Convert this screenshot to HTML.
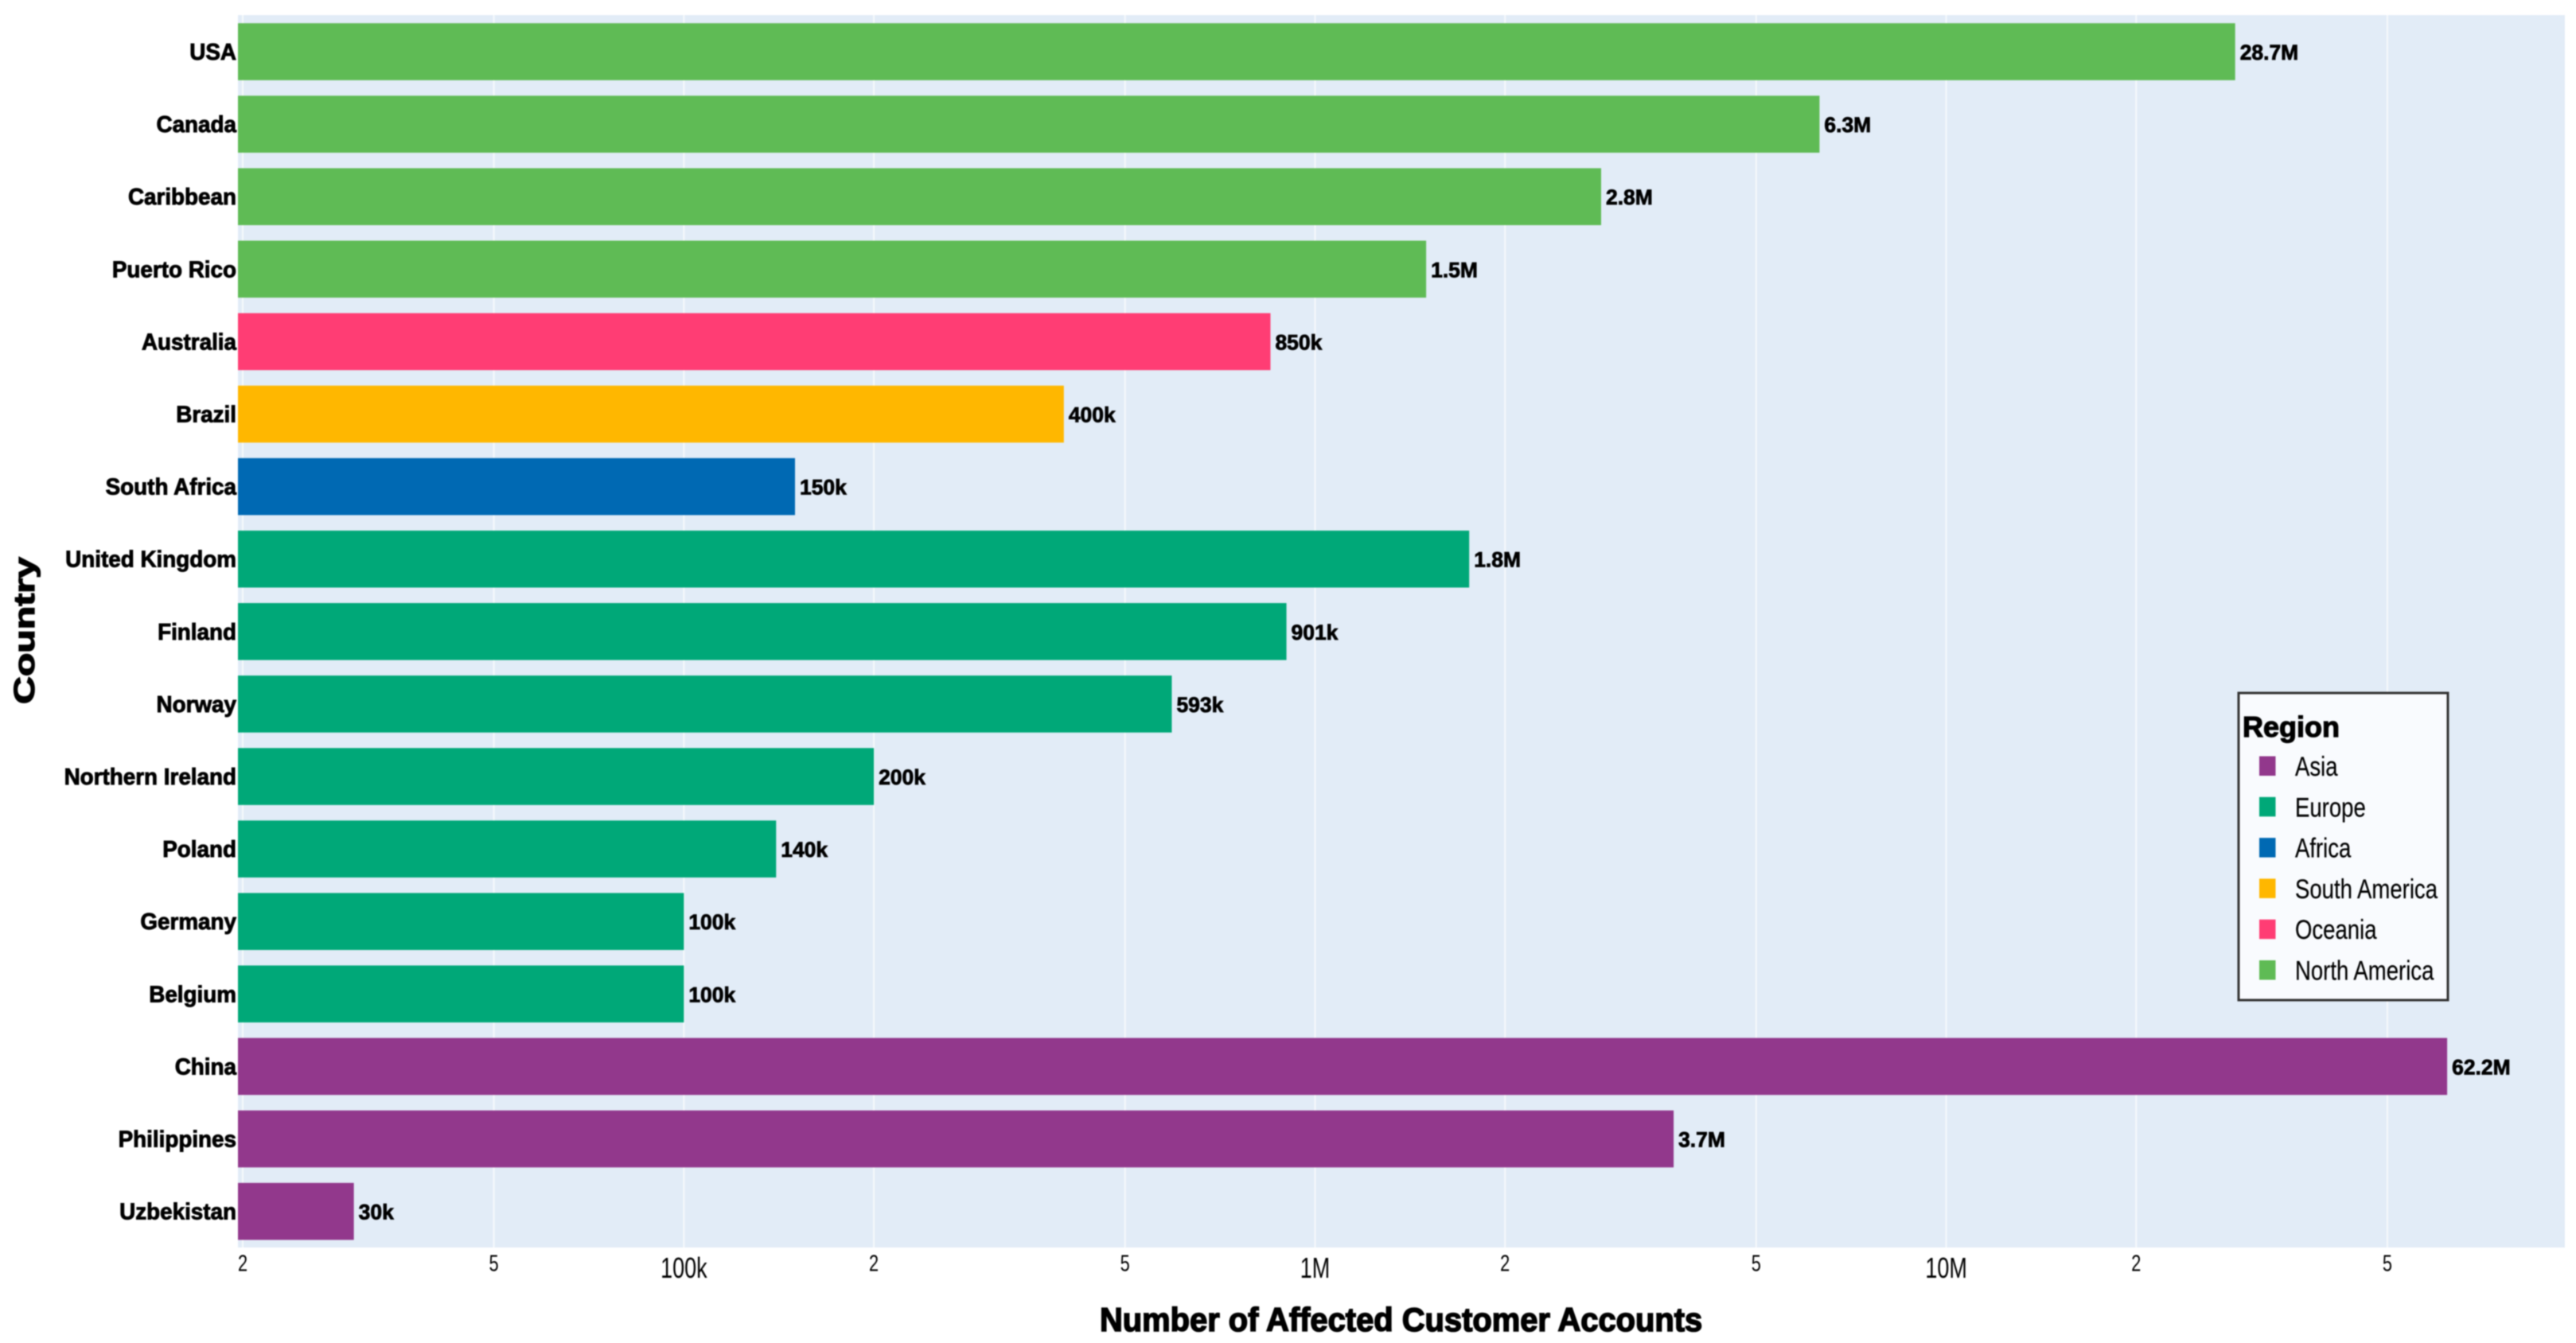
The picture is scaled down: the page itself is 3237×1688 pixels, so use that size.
<!DOCTYPE html>
<html lang="en">
<head>
<meta charset="utf-8">
<title>Number of Affected Customer Accounts by Country</title>
<style>
html,body{margin:0;padding:0;background:#fff;}
svg{display:block;filter:blur(0.7px);}
text{font-family:"Liberation Sans",sans-serif;fill:#000;}
</style>
</head>
<body>
<svg id="chart" xmlns="http://www.w3.org/2000/svg" width="3237" height="1688" viewBox="0 0 3237 1688"></svg>
<script>
const categories = ["USA","Canada","Caribbean","Puerto Rico","Australia","Brazil","South Africa","United Kingdom","Finland","Norway","Northern Ireland","Poland","Germany","Belgium","China","Philippines","Uzbekistan"];
const accountValues = [28700000,6300000,2840000,1500000,850000,400000,150000,1755000,901000,593000,200000,140000,100000,100000,62200000,3700000,30000];
const valueLabels = ["28.7M","6.3M","2.8M","1.5M","850k","400k","150k","1.8M","901k","593k","200k","140k","100k","100k","62.2M","3.7M","30k"];
const barRegions = ["North America","North America","North America","North America","Oceania","South America","Africa","Europe","Europe","Europe","Europe","Europe","Europe","Europe","Asia","Asia","Asia"];
const tickValues = [20000,50000,100000,200000,500000,1000000,2000000,5000000,10000000,20000000,50000000];
const tickLabels = ["2","5","100k","2","5","1M","2","5","10M","2","5"];
const legendRegions = ["Asia","Europe","Africa","South America","Oceania","North America"];
const regionColors = ["#92388c","#00a878","#0069b3","#ffb700","#ff3d74","#5fbb55"];

const svg = document.getElementById('chart');
const NS = 'http://www.w3.org/2000/svg';
const plotLeft = 299, plotRight = 3223, plotTop = 19, plotBottom = 1568;
const firstBarTop = 29.2, rowPitch = 91.1, barHeight = 71.6;

function xScale(v){ return 305 + 793.1 * Math.log10(v / 20000); }
function yBandTop(i){ return firstBarTop + i * rowPitch; }
function colorOf(region){ return regionColors[legendRegions.indexOf(region)]; }

function makeRect(x, y, w, h, fill){
  const r = document.createElementNS(NS, 'rect');
  r.setAttribute('x', x);
  r.setAttribute('y', y);
  r.setAttribute('width', w);
  r.setAttribute('height', h);
  r.setAttribute('fill', fill);
  svg.appendChild(r);
  return r;
}
function makeText(str, x, y, size, weight, anchor, sx, strokeW){
  const t = document.createElementNS(NS, 'text');
  t.textContent = str;
  t.setAttribute('transform', 'translate(' + x + ',' + y + ') scale(' + sx + ',1)');
  t.setAttribute('font-size', size);
  t.setAttribute('font-weight', weight);
  t.setAttribute('text-anchor', anchor);
  if (strokeW) {
    t.setAttribute('stroke', '#000');
    t.setAttribute('stroke-width', strokeW);
  }
  svg.appendChild(t);
  return t;
}

const plotBg = makeRect(plotLeft, plotTop, plotRight - plotLeft, plotBottom - plotTop, '#e2ecf7');



tickValues.forEach(function(v, i){
  const gx = xScale(v);
  const line = makeRect(gx - 1, plotTop, 2, plotBottom - plotTop, '#f6f9fc');
  
  
  const major = tickLabels[i].length > 1;
  const label = makeText(tickLabels[i], gx, major ? 1606 : 1597.5, major ? 36 : 29, 'normal', 'middle', 0.75, 0);
  
  
});

categories.forEach(function(name, i){
  const top = yBandTop(i);
  const centre = top + barHeight / 2;
  const bar = makeRect(plotLeft, top, xScale(accountValues[i]) - plotLeft, barHeight, colorOf(barRegions[i]));
  
  
  const cat = makeText(name, 297, centre + 10, 29, 'bold', 'end', 0.96, 0.9);
  
  
  const val = makeText(valueLabels[i], xScale(accountValues[i]) + 6, centre + 10, 27, 'bold', 'start', 0.98, 0.8);
  
  
});

const xTitle = makeText('Number of Affected Customer Accounts', 1382, 1673, 42, 'bold', 'start', 0.95, 1.6);



const yTitle = makeText('Country', 0, 0, 36, 'bold', 'start', 1, 1.3);
yTitle.setAttribute('transform', 'translate(43,885) rotate(-90) scale(1.34,1)');



const legendBox = makeRect(2813, 871, 263, 386, '#f9fbfe');
legendBox.setAttribute('stroke', '#333');
legendBox.setAttribute('stroke-width', '3');



const legendTitle = makeText('Region', 2818, 926, 36, 'bold', 'start', 1, 1.2);



legendRegions.forEach(function(region, i){
  const baseline = 975 + i * 51.3;
  const swatch = makeRect(2839, baseline - 24.5, 20.5, 24.5, regionColors[i]);
  
  
  const entry = makeText(region, 2884, baseline, 34, 'normal', 'start', 0.81, 0.2);
  
  
});
</script>
</body>
</html>
